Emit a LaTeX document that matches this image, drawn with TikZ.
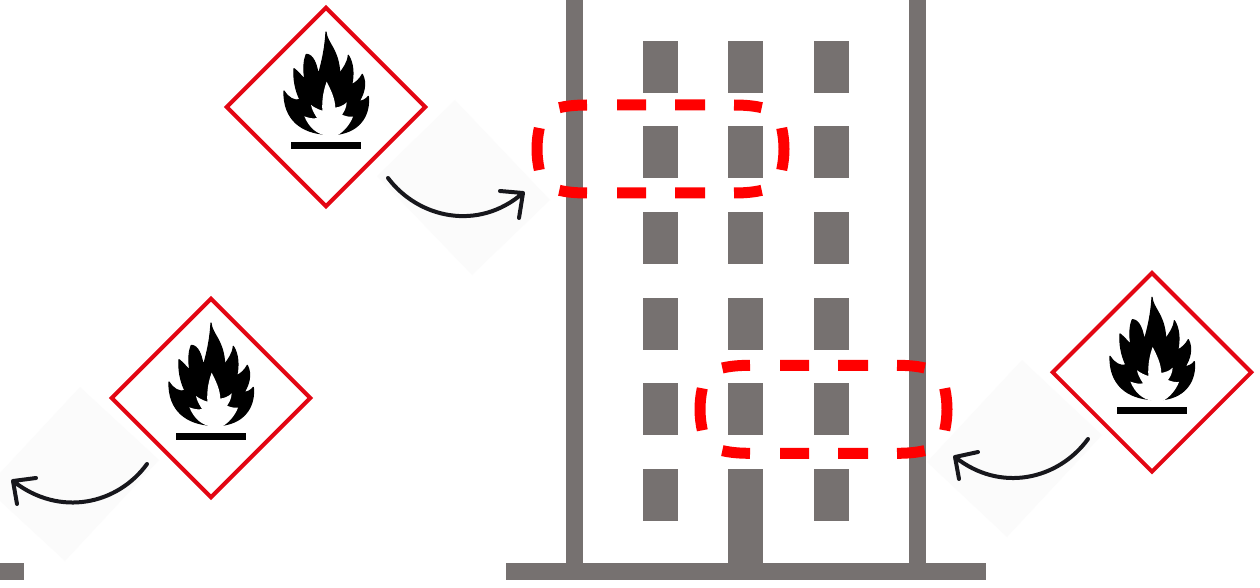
\documentclass[tikz,border=0pt]{standalone}
\usetikzlibrary{shapes.geometric}
\definecolor{wallgray}{HTML}{767170}
\definecolor{hazardred}{HTML}{E30613}
\definecolor{dashred}{HTML}{FF0000}
\definecolor{arrowink}{HTML}{17171C}
\definecolor{faint}{HTML}{FBFBFB}
\tikzset{
  x=1pt,y=-1pt,
  wall/.style={fill=wallgray,draw=none},
  ghost/.style={fill=faint,draw=none},
  hazard/.style={shape=diamond,draw=hazardred,line width=4pt,minimum width=198.6pt,minimum height=198.6pt,inner sep=0pt,outer sep=0pt,fill=white},
  curvearrow/.style={draw=arrowink,line width=4pt,line cap=round,line join=round},
  dashring/.style={draw=dashred,line width=11pt,line cap=butt},
  pics/flame/.style={code={
    \begin{scope}[x=0.3333pt,y=-0.3333pt,shift={(-333,-322)}]
      \filldraw[black,line width=1.2pt,line join=round] (333,97) .. controls (335,130) and (372,150) .. (374,222)
        .. controls (385,205) and (398,190) .. (400,167)
        .. controls (415,190) and (417,225) .. (410,255)
        .. controls (422,250) and (435,238) .. (442,224)
        .. controls (455,250) and (448,280) .. (432,305)
        .. controls (442,305) and (455,298) .. (460,290)
        .. controls (465,340) and (440,395) .. (365,404)
        -- (335,404)
        .. controls (260,400) and (205,360) .. (207,274)
        .. controls (220,295) and (238,305) .. (255,300)
        .. controls (240,270) and (235,235) .. (237,207)
        .. controls (248,215) and (260,230) .. (270,240)
        .. controls (265,215) and (265,185) .. (274,164)
        .. controls (295,165) and (305,195) .. (310,226)
        .. controls (320,190) and (330,150) .. (333,97) -- cycle;
      \fill[white] (335,408) .. controls (305,403) and (283,385) .. (268,350)
        .. controls (282,355) and (295,358) .. (306,355)
        .. controls (300,345) and (291,332) .. (288,316)
        .. controls (300,325) and (312,330) .. (322,333)
        .. controls (320,300) and (326,270) .. (335,246)
        .. controls (347,270) and (360,295) .. (361,324)
        .. controls (372,322) and (386,318) .. (395,308)
        .. controls (394,325) and (388,335) .. (381,345)
        .. controls (392,350) and (402,352) .. (414,351)
        .. controls (405,375) and (385,398) .. (365,408) -- cycle;
      \fill[black] (228,427) rectangle (438,448);
    \end{scope}
  }},
  pics/ring/.style={code={
    \draw[dashring]
      (559.3,107.7) .. controls (568,105.6) and (578,105) .. (587,105)
      (617,105) -- (646,105) (675,105) -- (705,105)
      (734,105) .. controls (743,105) and (753,105.6) .. (761.7,107.7)
      (781.7,128) .. controls (783.2,135) and (784,142) .. (784,149) .. controls (784,156) and (783.2,163) .. (781.7,170)
      (761.7,190.3) .. controls (753,192.4) and (743,193) .. (734,193)
      (705,193) -- (675,193) (646,193) -- (617,193)
      (587,193) .. controls (578,193) and (568,192.4) .. (559.3,190.3)
      (539.3,170) .. controls (537.8,163) and (537,156) .. (537,149) .. controls (537,142) and (537.8,135) .. (539.3,128);
  }}
}
\begin{document}
\begin{tikzpicture}
\useasboundingbox (0,0) rectangle (1260,588);
\fill[white] (0,0) rectangle (1260,588);
% faint diamonds
\fill[ghost] (455,100) -- (377,176) -- (472,275) -- (550,200) -- cycle;
\fill[ghost] (1022,360) -- (1102,435) -- (1007,537) -- (927,462) -- cycle;
\fill[ghost] (80,387) -- (159,460) -- (65,561) -- (-14,488) -- cycle;
% building
\fill[wall] (566,0) rectangle (583,570);
\fill[wall] (909,0) rectangle (926,570);
\fill[wall] (506,563) rectangle (986,580);
\fill[wall] (0,563) rectangle (24,580);
\foreach \wx in {643,728,814}
  \foreach \wy in {41,126,212,298,383,469}
    \fill[wall] (\wx,\wy) rectangle ++(35,52);
\fill[wall] (728,469) rectangle (763,570);
% dashed rings
\pic at (0,0) {ring};
\pic at (163,260.3) {ring};
% hazard diamonds
\node[hazard] (hazA) at (326,107) {};
\node[hazard] (hazB) at (1152,372.3) {};
\node[hazard] (hazC) at (211,398) {};
\pic at (hazA.center) {flame};
\pic at (hazB.center) {flame};
\pic at (hazC.center) {flame};
% arrows
\coordinate (a1s) at (388,178);
\coordinate (a1e) at (523,193);
\coordinate (a2s) at (1088,439);
\coordinate (a2e) at (955,457);
\coordinate (a3s) at (147,464);
\coordinate (a3e) at (13,481);
\draw[curvearrow] (a1s) .. controls (418,218) and (478,232) .. (a1e) (500,191) -- (a1e) -- (519,218);
\draw[curvearrow] (a2s) .. controls (1058,480) and (1000,493) .. (a2e) (978,452) -- (a2e) -- (959,479);
\draw[curvearrow] (a3s) .. controls (118,504) and (60,518) .. (a3e) (36,478) -- (a3e) -- (17,504);
\end{tikzpicture}
\end{document}
